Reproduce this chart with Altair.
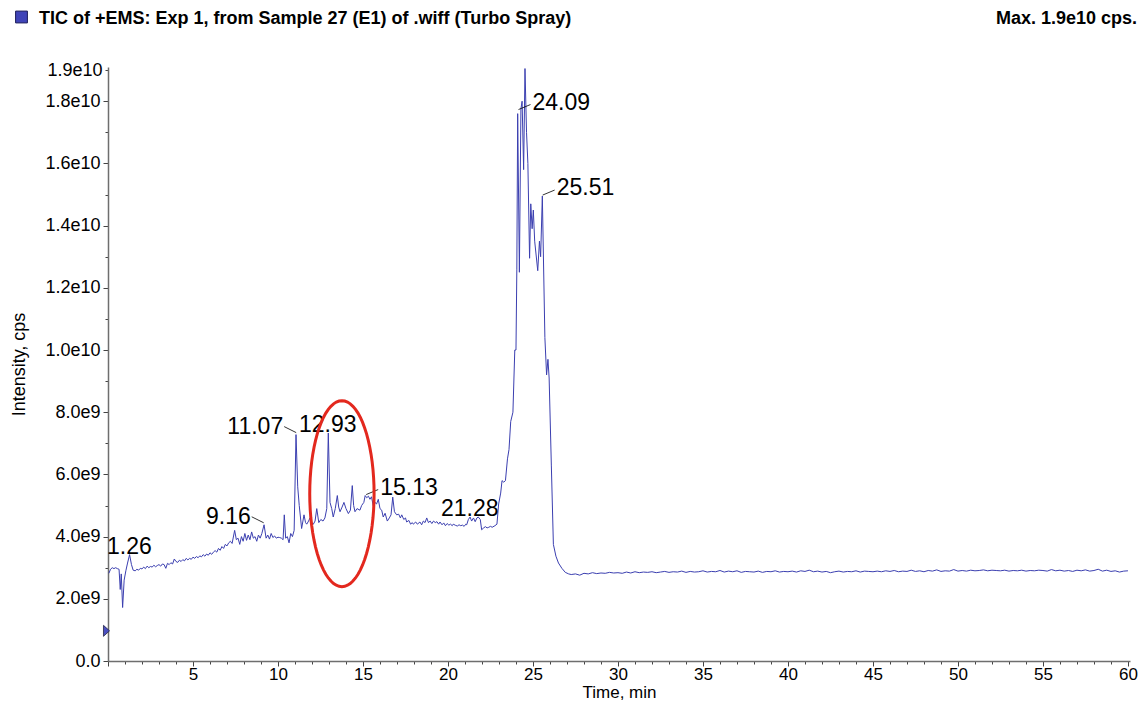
import altair as alt
import numpy as np
import pandas as pd

# ---------------- data (time in min, intensity in 1e9 cps) ----------------
trace_early = [
    (0.05, 2.82), (0.15, 2.95), (0.25, 3.0), (0.35, 2.97), (0.45, 3.0), (0.55, 2.97),
    (0.65, 2.95), (0.72, 2.3), (0.78, 2.8), (0.86, 1.72), (0.95, 2.6), (1.05, 2.9),
    (1.15, 3.15), (1.27, 3.42), (1.38, 3.1), (1.48, 2.92), (1.6, 2.9),
    (1.7, 2.95), (1.8, 2.92), (1.9, 2.98), (2.0, 2.96), (2.1, 3.02), (2.2, 2.97),
    (2.3, 3.05), (2.4, 3.0), (2.5, 3.04), (2.6, 3.02), (2.7, 3.08), (2.8, 3.03),
    (2.9, 3.07), (3.0, 3.1), (3.1, 3.05), (3.2, 3.12), (3.3, 3.1), (3.4, 2.98),
    (3.5, 3.14), (3.6, 3.1), (3.7, 3.16), (3.8, 3.12), (3.9, 3.28), (4.0, 3.2),
    (4.1, 3.17), (4.2, 3.24), (4.3, 3.2), (4.4, 3.26), (4.5, 3.22), (4.6, 3.3),
    (4.7, 3.25), (4.8, 3.3), (4.9, 3.27), (5.0, 3.34), (5.1, 3.3), (5.2, 3.36),
    (5.3, 3.32), (5.4, 3.38), (5.5, 3.35), (5.6, 3.42), (5.7, 3.37), (5.8, 3.44),
    (5.9, 3.4), (6.0, 3.48), (6.1, 3.43), (6.2, 3.5), (6.3, 3.55), (6.4, 3.5),
    (6.5, 3.62), (6.6, 3.56), (6.7, 3.68), (6.8, 3.62), (6.9, 3.75), (7.0, 3.7),
    (7.1, 3.8), (7.2, 3.85), (7.3, 3.78), (7.45, 4.2), (7.55, 3.9), (7.65, 3.95),
    (7.75, 3.75), (7.85, 4.0), (7.95, 3.85), (8.05, 4.1), (8.15, 3.88), (8.25, 4.05),
    (8.35, 3.9), (8.45, 4.15), (8.55, 3.95), (8.65, 4.0), (8.75, 3.85), (8.85, 4.05),
    (8.95, 3.95), (9.05, 4.1), (9.18, 4.38), (9.3, 3.95), (9.4, 4.05),
]
trace_middle = [
    (9.5, 3.92), (9.6, 4.1), (9.7, 3.97), (9.8, 4.02), (9.9, 3.95), (10.0, 3.98),
    (10.1, 3.97), (10.2, 3.95), (10.3, 3.9), (10.37, 4.7), (10.45, 3.95), (10.55, 4.0),
    (10.65, 3.8), (10.75, 4.1), (10.85, 4.0), (10.95, 4.2), (11.06, 7.28), (11.16, 5.6),
    (11.25, 5.0), (11.39, 4.26), (11.53, 4.7), (11.62, 4.45), (11.69, 4.4), (11.8, 4.5),
    (11.88, 4.6), (11.98, 4.45), (12.08, 4.4), (12.18, 4.5), (12.28, 4.9), (12.4, 4.45),
    (12.52, 4.55), (12.65, 4.5), (12.76, 4.6), (12.87, 4.9), (12.96, 7.33), (13.06, 5.1),
    (13.16, 4.9), (13.25, 4.63), (13.37, 4.9), (13.49, 5.32), (13.57, 4.95), (13.65, 4.8),
    (13.77, 4.95), (13.88, 5.1), (14.0, 4.9), (14.14, 4.74), (14.26, 4.85), (14.37, 5.64),
    (14.45, 5.0), (14.53, 4.8), (14.65, 4.9), (14.82, 4.85), (14.92, 5.0), (15.05, 5.1),
    (15.13, 5.32), (15.22, 5.25), (15.32, 5.3), (15.41, 5.2), (15.5, 5.28), (15.6, 5.0),
    (15.7, 5.1), (15.8, 5.05), (15.9, 5.2), (16.0, 4.9), (16.1, 4.85), (16.19, 4.63),
    (16.3, 4.75), (16.43, 4.5), (16.55, 4.6), (16.65, 4.7), (16.75, 5.27), (16.85, 4.8),
    (16.98, 4.7), (17.1, 4.72), (17.2, 4.6), (17.28, 4.7), (17.4, 4.55), (17.5, 4.6),
    (17.57, 4.47), (17.7, 4.52), (17.8, 4.4), (17.9, 4.45), (17.96, 4.4), (18.1, 4.47),
    (18.2, 4.4), (18.35, 4.47), (18.45, 4.38), (18.55, 4.5), (18.65, 4.45), (18.75, 4.6),
    (18.85, 4.45), (18.95, 4.5), (19.05, 4.42), (19.15, 4.5), (19.25, 4.45), (19.35, 4.48),
    (19.45, 4.4), (19.53, 4.47), (19.65, 4.38), (19.75, 4.44), (19.85, 4.35), (19.95, 4.42),
    (20.05, 4.37), (20.15, 4.4), (20.25, 4.35), (20.31, 4.4), (20.45, 4.36), (20.55, 4.34),
    (20.65, 4.38), (20.75, 4.35), (20.85, 4.37), (20.95, 4.33), (21.05, 4.4), (21.1, 4.38),
    (21.2, 4.55), (21.3, 4.63), (21.39, 4.5), (21.5, 4.6), (21.6, 4.48), (21.7, 4.6),
    (21.78, 4.63), (21.9, 4.55), (21.98, 4.22), (22.1, 4.28), (22.2, 4.32), (22.3, 4.28),
    (22.4, 4.3), (22.5, 4.33), (22.6, 4.3), (22.76, 4.35),
]
trace_peak = [
    (22.88, 4.4), (22.98, 5.05), (23.1, 5.4), (23.18, 5.8), (23.28, 5.75), (23.38, 5.8),
    (23.5, 6.5), (23.59, 6.8), (23.69, 7.7), (23.82, 8.0), (23.93, 10.0), (24.0, 10.0),
    (24.05, 12.6), (24.1, 17.6), (24.2, 12.5), (24.29, 17.75), (24.36, 18.0), (24.45, 15.8),
    (24.53, 19.05), (24.62, 17.0), (24.7, 16.0), (24.8, 12.95), (24.87, 14.7), (24.95, 13.9),
    (25.02, 14.5), (25.1, 13.5), (25.28, 12.55), (25.38, 13.5), (25.45, 13.0), (25.55, 14.95),
    (25.7, 10.4), (25.8, 9.2), (25.88, 9.7), (25.95, 9.1), (26.08, 6.3), (26.2, 3.75),
    (26.35, 3.37), (26.5, 3.15), (26.7, 2.98), (26.9, 2.85), (27.1, 2.8),
]
late_start = 27.25
late_step = 0.25
late_values = [
    2.78, 2.80, 2.76, 2.82, 2.80, 2.84, 2.81, 2.83, 2.82, 2.85, 2.83, 2.84,
    2.82, 2.86, 2.83, 2.87, 2.84, 2.86, 2.85, 2.87, 2.84, 2.86, 2.88, 2.85, 2.87, 2.86, 2.89, 2.85, 2.88, 2.86, 2.87, 2.90,
    2.86, 2.88, 2.87, 2.91, 2.86, 2.89, 2.87, 2.90, 2.85, 2.88, 2.87, 2.86, 2.89, 2.85, 2.88, 2.87, 2.90, 2.86, 2.88, 2.87,
    2.89, 2.86, 2.90, 2.88, 2.92, 2.87, 2.89, 2.86, 2.88, 2.84, 2.87, 2.89, 2.86, 2.88, 2.87, 2.90, 2.86, 2.89, 2.88, 2.87,
    2.89, 2.87, 2.90, 2.88, 2.91, 2.87, 2.89, 2.88, 2.92, 2.88, 2.90, 2.87, 2.91, 2.89, 2.93, 2.88, 2.90, 2.89, 2.94, 2.89,
    2.91, 2.89, 2.92, 2.90, 2.91, 2.93, 2.90, 2.92, 2.91, 2.90, 2.92, 2.89, 2.91, 2.90, 2.92, 2.89, 2.91, 2.90, 2.92, 2.91,
    2.89, 2.94, 2.90, 2.92, 2.89, 2.91, 2.88, 2.92, 2.90, 2.93, 2.89, 2.91, 2.95, 2.89, 2.92, 2.88, 2.90, 2.86, 2.89, 2.90,
]

peak_labels = ["1.26", "9.16", "11.07", "12.93", "15.13", "21.28", "24.09", "25.51"]
peak_times = [1.26, 9.16, 11.07, 12.93, 15.13, 21.28, 24.09, 25.51]
peak_heights = [3.42, 4.38, 7.28, 7.33, 5.32, 4.63, 17.7, 14.95]

circled_time = 13.76
circled_height = 5.38
marker_height = 0.97

title_text = "TIC of +EMS: Exp 1, from Sample 27 (E1) of .wiff (Turbo Spray)"
max_text = "Max. 1.9e10 cps."
x_title = "Time, min"
y_title = "Intensity, cps"
x_tick_values = list(range(0, 61))
y_tick_values = [i * 1e9 for i in range(0, 20)]
y_label_values = [0, 2e9, 4e9, 6e9, 8e9, 1e10, 1.2e10, 1.4e10, 1.6e10, 1.8e10, 1.9e10]
y_label_texts = ["0.0", "2.0e9", "4.0e9", "6.0e9", "8.0e9", "1.0e10", "1.2e10",
                 "1.4e10", "1.6e10", "1.8e10", "1.9e10"]

# ---------------- build tables ----------------
pairs = trace_early + trace_middle + trace_peak
t_all = [p[0] for p in pairs] + [late_start + late_step * i for i in range(len(late_values))]
v_all = [p[1] for p in pairs] + late_values
trace = pd.DataFrame({"t": t_all, "cps": [v * 1e9 for v in v_all]})

W, H = 1022, 594
XMAX, YMAX = 60.12, 1.91e10
t_per_px = XMAX / W
v_per_px = YMAX / H

label_side = {"1.26": "center", "9.16": "left", "11.07": "left", "12.93": "center",
              "15.13": "right", "21.28": "center", "24.09": "right", "25.51": "right"}
peaks = pd.DataFrame({"label": peak_labels, "t": peak_times,
                      "cps": [h * 1e9 for h in peak_heights]})
peaks["side"] = peaks["label"].map(label_side)

lead_rows = []
for _, r in peaks.iterrows():
    if r["side"] == "right":
        a, b = (1, 1), (13, 6)
    elif r["side"] == "left":
        a, b = (0, 2), (-12, 8)
    else:
        continue
    lead_rows.append({"t": r["t"] + a[0] * t_per_px, "cps": r["cps"] + a[1] * v_per_px,
                      "t2": r["t"] + b[0] * t_per_px, "cps2": r["cps"] + b[1] * v_per_px})
leaders = pd.DataFrame(lead_rows)

FONT = "Liberation Sans"
LINE = "#3b3fb0"

xscale = alt.Scale(domain=[0, XMAX], nice=False, zero=False)
yscale = alt.Scale(domain=[0, YMAX], nice=False)

y_expr = " : ".join(f"datum.value === {int(v)} ? '{s}'" for v, s in zip(y_label_values, y_label_texts)) + " : ''"

x_axis = alt.Axis(
    values=x_tick_values,
    labelExpr="datum.value % 5 === 0 && datum.value > 0 ? datum.label : ''",
    tickSize={"condition": {"test": "datum.value % 5 === 0", "value": 5}, "value": 3},
    tickColor="#444444", tickWidth=1, domainColor="#6e6e6e", domainWidth=1.5,
    labelFont=FONT, labelFontSize=17, labelColor="black", labelPadding=0,
    labelOverlap=False, labelFlush=False, grid=False,
    title=x_title, titleFont=FONT, titleFontSize=17, titleFontWeight="normal",
    titleColor="black", titleX=W / 2, titleY=31, titleAlign="center", titleBaseline="middle",
)
y_axis = alt.Axis(
    values=y_tick_values,
    labelExpr=y_expr,
    tickSize={"condition": {"test": "datum.value % 2000000000 === 0", "value": 5}, "value": 3},
    tickColor="#444444", tickWidth=1, domainColor="#6e6e6e", domainWidth=1.5,
    labelFont=FONT, labelFontSize=18, labelColor="black", labelPadding=3,
    labelOverlap=False, labelFlush=False, grid=False,
    title=y_title, titleFont=FONT, titleFontSize=18, titleFontWeight="normal",
    titleColor="black", titleX=-89, titleY=H / 2, titleAngle=270,
    titleAlign="center", titleBaseline="middle",
)

X = lambda: alt.X("t:Q", scale=xscale, axis=x_axis, title=x_title)
Y = lambda: alt.Y("cps:Q", scale=yscale, axis=y_axis, title=y_title)

line = alt.Chart(trace).mark_line(color=LINE, strokeWidth=1).encode(
    x=X(), y=Y(), order="t:Q",
)

lead = alt.Chart(leaders).mark_rule(color="black", strokeWidth=0.8).encode(
    x=X(), y=Y(), x2="t2:Q", y2="cps2:Q")

def label_layer(side, align, dx):
    return alt.Chart(peaks[peaks["side"] == side]).mark_text(
        align=align, baseline="alphabetic", dx=dx, dy=-1, font=FONT, fontSize=23, color="black"
    ).encode(x=X(), y=Y(), text="label:N")

lab_c = label_layer("center", "center", 0)
lab_l = label_layer("left", "right", -13)
lab_r = label_layer("right", "left", 15)

# ellipse outline as a custom symbol path
angles = np.linspace(0, 2 * np.pi, 72, endpoint=False)
ell_path = "M" + " L".join(f"{0.346 * np.sin(a):.4f},{-np.cos(a):.4f}" for a in angles) + " Z"
ellipse = alt.Chart(pd.DataFrame({"t": [circled_time], "cps": [circled_height * 1e9]})).mark_point(
    shape=ell_path, size=186 ** 2, filled=False, color="#e3281e", strokeWidth=3, opacity=1
).encode(x=X(), y=Y())

marker = alt.Chart(pd.DataFrame({"cps": [marker_height * 1e9]})).mark_point(
    shape="M-0.55,-1 L0.55,0 L-0.55,1 Z", size=121, filled=True, fill="#4a4fc0",
    stroke="#222244", strokeWidth=0.8, opacity=1
).encode(x=alt.value(-1.5), y=Y())

one = pd.DataFrame({"k": [0]})
title_l = alt.Chart(one).mark_text(
    text=title_text, align="left", baseline="alphabetic", font=FONT, fontSize=18,
    fontWeight="bold", color="black"
).encode(x=alt.value(-69), y=alt.value(-43))
title_r = alt.Chart(one).mark_text(
    text=max_text, align="right", baseline="alphabetic", font=FONT, fontSize=18,
    fontWeight="bold", color="black"
).encode(x=alt.value(1029), y=alt.value(-43))
square = alt.Chart(one).mark_square(
    size=140, fill="#4044b8", stroke="#1d1d5a", strokeWidth=1, opacity=1
).encode(x=alt.value(-86.5), y=alt.value(-50))

chart = alt.layer(line, lead, lab_c, lab_l, lab_r, ellipse, marker, title_l, title_r, square).properties(
    width=W, height=H,
    autosize=alt.AutoSizeParams(type="none"),
    padding={"left": 100, "top": 59, "right": 8, "bottom": 41},
    background="white",
).configure_view(stroke=None)

chart.save("out.html", embed_options={"renderer": "svg", "actions": False})
